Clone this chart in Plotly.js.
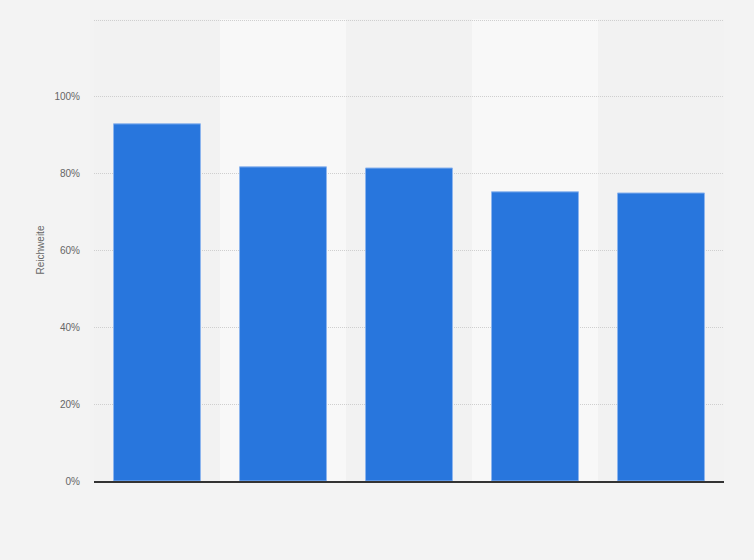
<!DOCTYPE html>
<html>
<head>
<meta charset="utf-8">
<script src="https://cdn.plot.ly/plotly-3.0.1.min.js"></script>
<style>
  html, body { margin: 0; padding: 0; background: #f3f3f3; }
  #chart { width: 754px; height: 560px; }
</style>
</head>
<body>
<div id="chart"></div>
<script>
// categories have no visible labels in the source
var categories = ['A', 'B', 'C', 'D', 'E'];
var reach = [93.0, 81.8, 81.5, 75.3, 75.0];
var tickValues = [0, 20, 40, 60, 80, 100, 120];
var tickLabels = ['0%', '20%', '40%', '60%', '80%', '100%', ''];

// lighter bands behind every second category
var bands = [];
for (var i = 1; i < categories.length; i += 2) {
    bands.push({
        type: 'rect', xref: 'x', yref: 'paper', layer: 'below',
        x0: i - 0.5, x1: i + 0.5, y0: 0, y1: 1,
        fillcolor: '#f8f8f8', line: {width: 0}
    });
}

var trace = {
    x: categories,
    y: reach,
    type: 'bar',
    marker: {
        color: '#2876dd',
        line: {color: '#8db5ee', width: 1}
    },
    hoverinfo: 'none'
};

var layout = {
    width: 754,
    height: 560,
    paper_bgcolor: '#f3f3f3',
    plot_bgcolor: '#f2f2f2',
    margin: {l: 94, r: 30, t: 19, b: 79},
    bargap: 0.31,
    showlegend: false,
    font: {family: 'Liberation Sans, Arial, sans-serif', color: '#666', size: 10},
    shapes: bands,
    xaxis: {
        showticklabels: false,
        showgrid: false,
        zeroline: false,
        showline: true,
        linecolor: '#333',
        linewidth: 1.5,
        ticks: ''
    },
    yaxis: {
        range: [0, 120.3],
        tickvals: tickValues,
        ticktext: tickLabels,
        showgrid: true,
        gridcolor: '#cfcfcf',
        griddash: '1px,1px',
        gridwidth: 1,
        zeroline: false,
        ticks: 'outside',
        ticklen: 11,
        tickcolor: 'rgba(0,0,0,0)',
        tickfont: {size: 10, color: '#666'},
        title: {text: 'Reichweite', font: {size: 10, color: '#666'}, standoff: 7}
    }
};

Plotly.newPlot('chart', [trace], layout, {displayModeBar: false, staticPlot: true});
</script>
</body>
</html>
